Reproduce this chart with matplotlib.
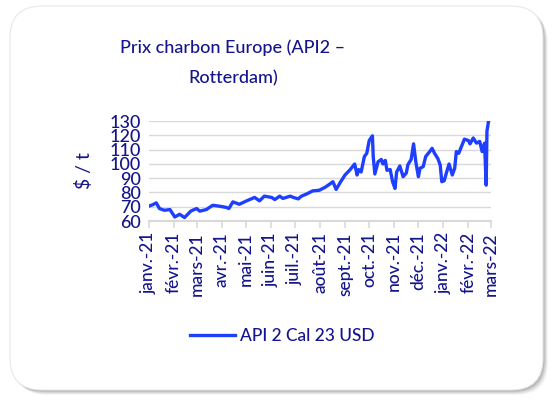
import pandas as pd
import numpy as np
import matplotlib.pyplot as plt
import matplotlib.dates as mdates
from matplotlib.patches import FancyBboxPatch

plt.rcParams['font.family'] = ['Lato', 'DejaVu Sans']

# values ($/t)
dates = ['2021-01-01', '2021-01-06', '2021-01-10', '2021-01-14', '2021-01-20', '2021-01-27',
         '2021-02-02', '2021-02-08', '2021-02-14', '2021-02-22', '2021-03-01', '2021-03-05',
         '2021-03-13', '2021-03-21', '2021-03-29', '2021-04-07', '2021-04-10', '2021-04-15',
         '2021-04-23', '2021-05-02', '2021-05-12', '2021-05-18', '2021-05-24', '2021-06-02',
         '2021-06-06', '2021-06-12', '2021-06-16', '2021-06-25', '2021-06-29', '2021-07-05',
         '2021-07-09', '2021-07-15', '2021-07-23', '2021-07-31', '2021-08-07', '2021-08-13',
         '2021-08-17', '2021-08-21', '2021-08-26', '2021-09-01', '2021-09-07', '2021-09-13',
         '2021-09-16', '2021-09-18', '2021-09-21', '2021-09-25', '2021-09-28', '2021-10-01',
         '2021-10-05', '2021-10-06', '2021-10-08', '2021-10-12', '2021-10-16', '2021-10-18',
         '2021-10-21', '2021-10-23', '2021-10-27', '2021-10-30', '2021-11-02', '2021-11-04',
         '2021-11-08', '2021-11-12', '2021-11-16', '2021-11-18', '2021-11-22', '2021-11-25',
         '2021-11-28', '2021-12-01', '2021-12-03', '2021-12-07', '2021-12-10', '2021-12-15',
         '2021-12-18', '2021-12-21', '2021-12-25', '2021-12-28', '2021-12-30', '2022-01-02',
         '2022-01-05', '2022-01-08', '2022-01-12', '2022-01-15', '2022-01-17', '2022-01-20',
         '2022-01-23', '2022-01-27', '2022-02-01', '2022-02-03', '2022-02-07', '2022-02-11',
         '2022-02-15', '2022-02-18', '2022-02-21', '2022-02-23', '2022-02-24', '2022-02-26']
prices = [70.4, 71.5, 72.7, 68.7, 67.5, 68.0,
          62.8, 64.7, 62.4, 67.0, 68.7, 66.9,
          68.0, 71.0, 70.4, 69.5, 68.7, 73.4,
          71.7, 74.1, 76.5, 74.1, 77.4, 76.5,
          75.0, 77.4, 75.8, 77.4, 76.5, 75.5,
          77.4, 78.8, 81.1, 81.5, 83.5, 85.8,
          87.5, 82.1, 86.9, 92.2, 95.7, 99.9,
          92.2, 96.0, 94.3, 105.1, 107.4, 116.3,
          119.6, 105.0, 92.9, 101.5, 103.1, 99.9,
          102.4, 95.5, 96.0, 87.5, 82.8, 94.3,
          98.5, 91.0, 93.6, 99.4, 103.1, 114.0,
          100.6, 91.0, 96.9, 98.1, 105.1, 108.6,
          110.9, 107.4, 103.8, 99.3, 87.5, 88.2,
          94.3, 99.9, 92.2, 96.9, 108.6, 107.4,
          111.6, 117.3, 116.3, 114.0, 118.1, 114.5,
          115.7, 108.6, 114.5, 85.1, 123.0, 130.0]

month_ticks = pd.date_range('2021-01-01', '2022-03-01', freq='MS')
month_labels = ['janv.-21', 'févr.-21', 'mars-21', 'avr.-21', 'mai-21', 'juin-21', 'juil.-21',
                'août-21', 'sept.-21', 'oct.-21', 'nov.-21', 'déc.-21', 'janv.-22', 'févr.-22',
                'mars-22']
yticks = [60, 70, 80, 90, 100, 110, 120, 130]

text_col = '#14148c'
line_col = '#1f3fff'
grid_col = '#d9d9d9'

W, H = 554, 405
fig = plt.figure(figsize=(W / 100, H / 100), dpi=100)
fig.patch.set_facecolor('white')

# card background with a soft shadow, drawn in pixel coords
bg = fig.add_axes([0, 0, 1, 1])
bg.set_xlim(0, W)
bg.set_ylim(H, 0)
bg.axis('off')
for k, a in enumerate([0.08, 0.12, 0.16, 0.22, 0.3]):
    off = 5 - k
    bg.add_patch(FancyBboxPatch((10 + off, 6 + off), 533, 384,
                                boxstyle='round,pad=0,rounding_size=32',
                                fc='#808080', ec='none', alpha=a))
bg.add_patch(FancyBboxPatch((10, 6), 533, 384, boxstyle='round,pad=0,rounding_size=32',
                            fc='white', ec='#e8e8e8', lw=0.8))

bg.text(233, 48, 'Prix charbon Europe (API2 –', ha='center', va='center',
        fontsize=13, fontweight='medium', color=text_col)
bg.text(233, 78, 'Rotterdam)', ha='center', va='center', fontsize=13,
        fontweight='medium', color=text_col)

ax = fig.add_axes([149 / W, 1 - 221 / H, 342 / W, 100 / H])
x = pd.to_datetime(dates)
ax.plot(x, prices, color=line_col, lw=2.4, solid_joinstyle='round', label='API 2 Cal 23 USD')

ax.set_ylim(60, 130)
ax.set_yticks(yticks)
ax.set_xlim(month_ticks[0], month_ticks[-1])
ax.set_xticks(month_ticks)
ax.set_xticklabels(month_labels, rotation=90)
ax.grid(axis='y', color=grid_col, lw=1)
ax.set_axisbelow(True)
for s in ['top', 'right', 'left']:
    ax.spines[s].set_visible(False)
ax.spines['bottom'].set_color(grid_col)
ax.spines['bottom'].set_linewidth(1.5)
ax.tick_params(axis='y', length=0, labelsize=13, colors=text_col, pad=6)
ax.tick_params(axis='x', length=5, width=1.2, color=grid_col, labelsize=12.5,
               labelcolor=text_col, pad=3)
for t in ax.get_xticklabels() + ax.get_yticklabels():
    t.set_fontweight('medium')
ax.set_facecolor('none')
ax.set_ylabel('$ / t', fontsize=14, color=text_col, labelpad=12)

leg = fig.legend(loc='center', bbox_to_anchor=(282 / W, 1 - 336 / H), frameon=False,
                 fontsize=12.5, handlelength=2.6, handletextpad=0.3)
for t in leg.get_texts():
    t.set_color(text_col)
    t.set_fontweight('medium')

fig.savefig('out.png', dpi=100)
